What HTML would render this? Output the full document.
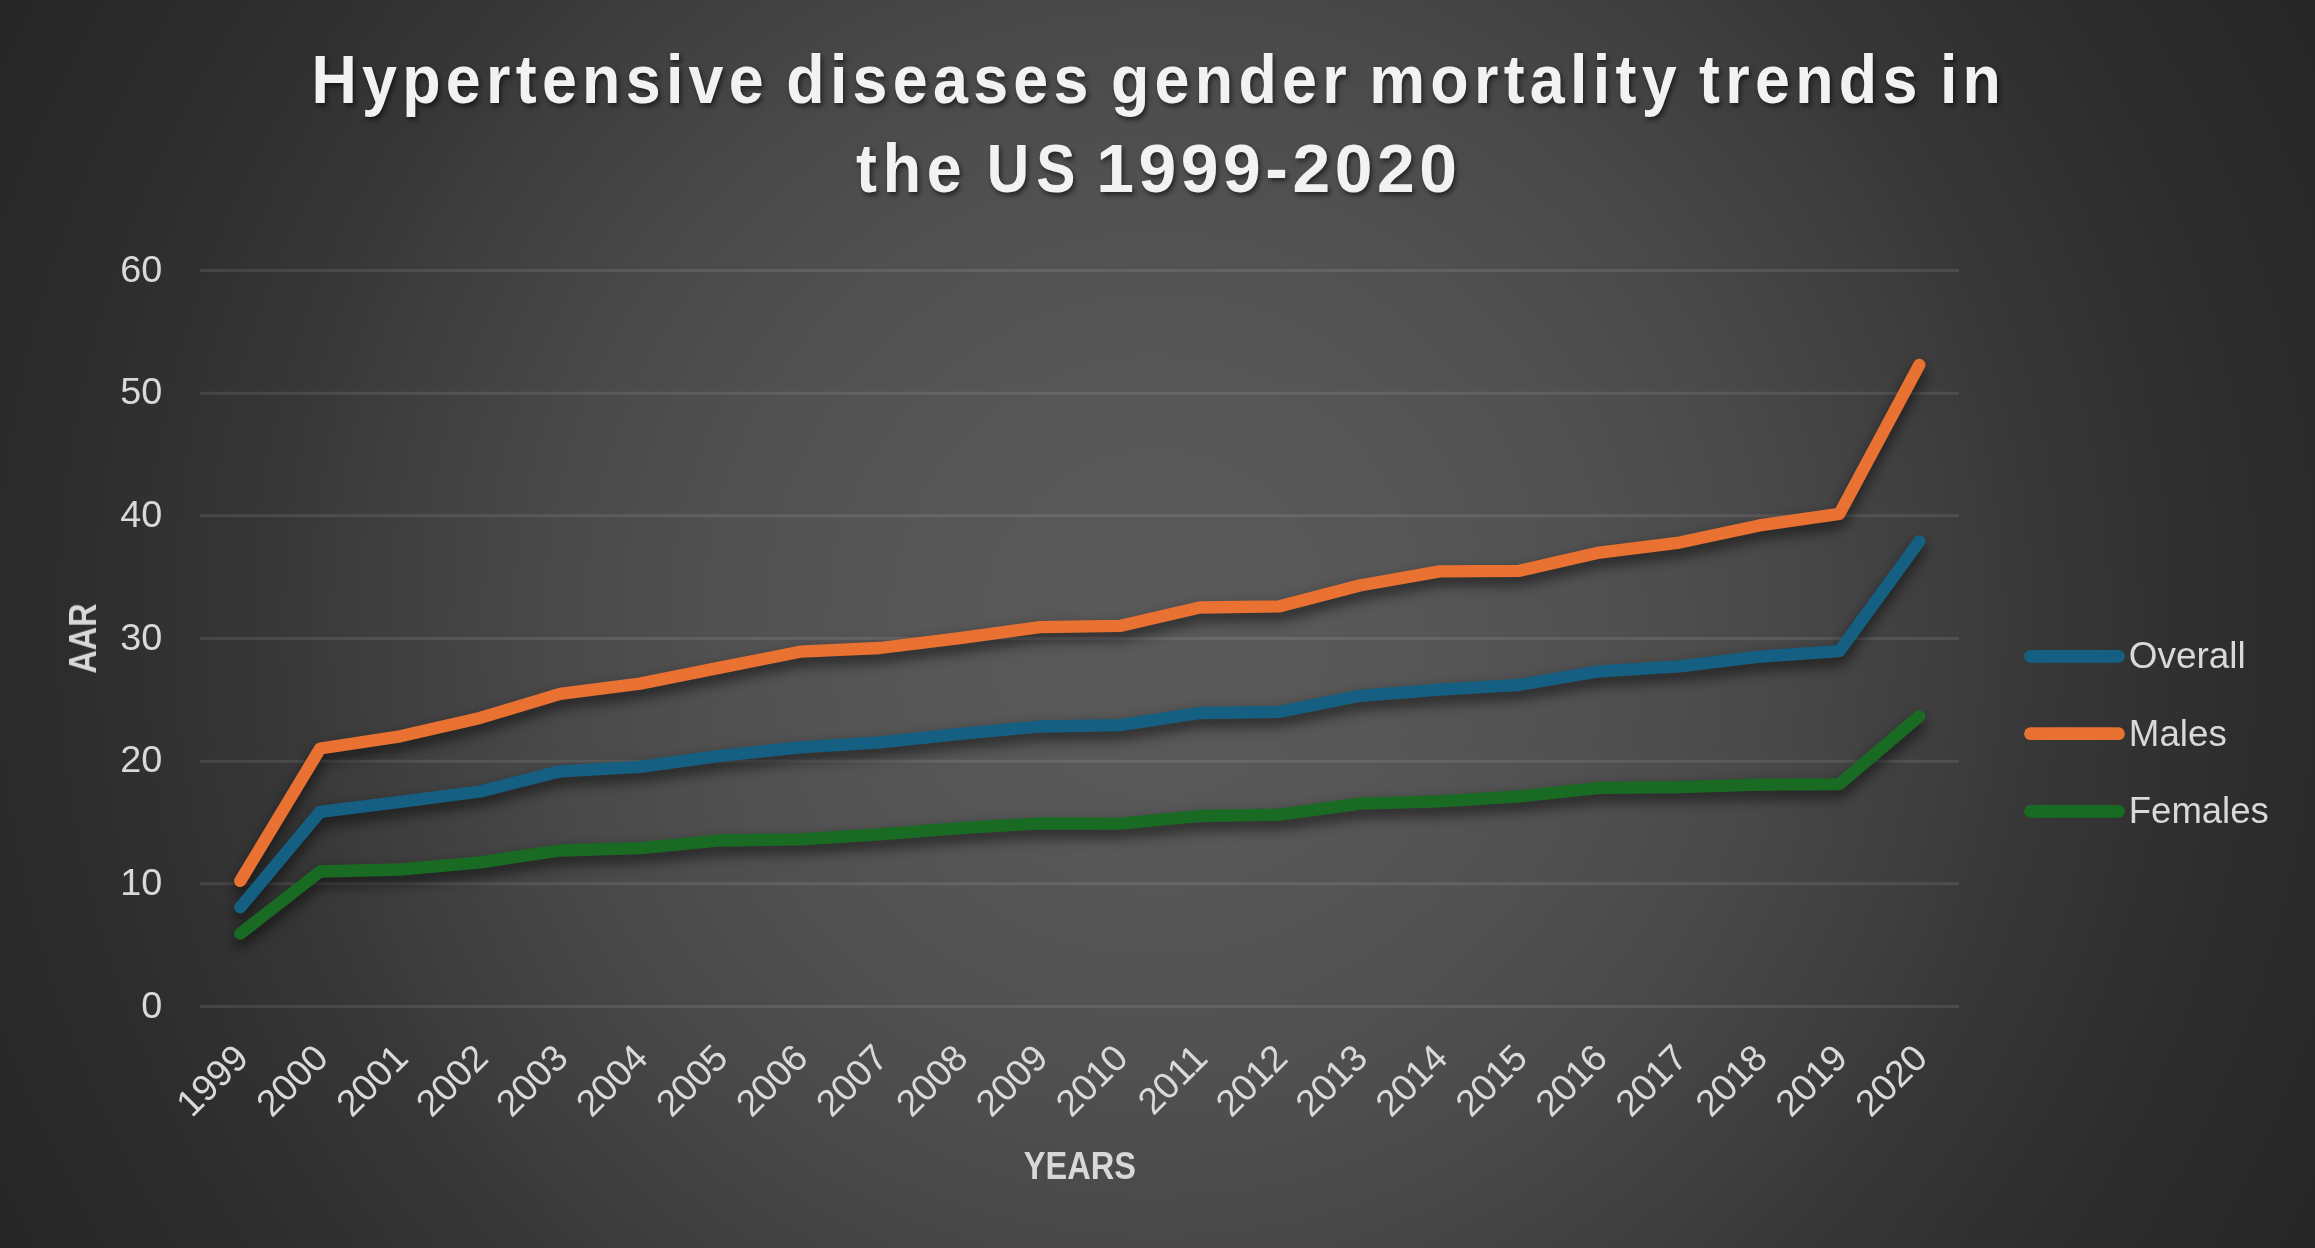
<!DOCTYPE html>
<html><head><meta charset="utf-8"><title>Hypertensive diseases gender mortality trends in the US 1999-2020</title>
<style>html,body{margin:0;padding:0;background:#262626;overflow:hidden}body{width:2315px;height:1248px}svg{display:block}text{font-family:"Liberation Sans",sans-serif}</style></head><body>
<svg width="2315" height="1248" viewBox="0 0 2315 1248">
<defs>
<radialGradient id="bg" gradientUnits="userSpaceOnUse" cx="1157.5" cy="624.0" r="1315.0"><stop offset="0.000" stop-color="#595959"/><stop offset="0.025" stop-color="#595959"/><stop offset="0.050" stop-color="#595959"/><stop offset="0.075" stop-color="#585858"/><stop offset="0.100" stop-color="#585858"/><stop offset="0.125" stop-color="#585858"/><stop offset="0.150" stop-color="#575757"/><stop offset="0.175" stop-color="#575757"/><stop offset="0.200" stop-color="#565656"/><stop offset="0.225" stop-color="#555555"/><stop offset="0.250" stop-color="#545454"/><stop offset="0.275" stop-color="#535353"/><stop offset="0.300" stop-color="#525252"/><stop offset="0.325" stop-color="#515151"/><stop offset="0.350" stop-color="#505050"/><stop offset="0.375" stop-color="#4e4e4e"/><stop offset="0.400" stop-color="#4d4d4d"/><stop offset="0.425" stop-color="#4b4b4b"/><stop offset="0.450" stop-color="#4a4a4a"/><stop offset="0.475" stop-color="#484848"/><stop offset="0.500" stop-color="#464646"/><stop offset="0.525" stop-color="#444444"/><stop offset="0.550" stop-color="#424242"/><stop offset="0.575" stop-color="#404040"/><stop offset="0.600" stop-color="#3e3e3e"/><stop offset="0.625" stop-color="#3c3c3c"/><stop offset="0.650" stop-color="#393939"/><stop offset="0.675" stop-color="#373737"/><stop offset="0.700" stop-color="#353535"/><stop offset="0.725" stop-color="#343434"/><stop offset="0.750" stop-color="#323232"/><stop offset="0.775" stop-color="#303030"/><stop offset="0.800" stop-color="#2f2f2f"/><stop offset="0.825" stop-color="#2d2d2d"/><stop offset="0.850" stop-color="#2c2c2c"/><stop offset="0.875" stop-color="#2b2b2b"/><stop offset="0.900" stop-color="#2a2a2a"/><stop offset="0.925" stop-color="#292929"/><stop offset="0.950" stop-color="#282828"/><stop offset="0.975" stop-color="#272727"/><stop offset="1.000" stop-color="#262626"/></radialGradient>
<filter id="sh" x="-5%" y="-20%" width="110%" height="140%" color-interpolation-filters="sRGB"><feGaussianBlur in="SourceAlpha" stdDeviation="7"/><feOffset dx="0" dy="7" result="b"/><feComponentTransfer><feFuncA type="linear" slope="0.6"/></feComponentTransfer><feMerge><feMergeNode/><feMergeNode in="SourceGraphic"/></feMerge></filter>
<filter id="tsh" x="-5%" y="-30%" width="110%" height="160%" color-interpolation-filters="sRGB"><feGaussianBlur in="SourceAlpha" stdDeviation="2.4"/><feOffset dx="1.8" dy="3.4"/><feComponentTransfer><feFuncA type="linear" slope="0.55"/></feComponentTransfer><feMerge><feMergeNode/><feMergeNode in="SourceGraphic"/></feMerge></filter>
</defs>
<rect width="2315" height="1248" fill="url(#bg)"/>
<g stroke="rgba(242,242,242,0.10)" stroke-width="3">
<line x1="200.0" y1="1006.50" x2="1959.0" y2="1006.50"/>
<line x1="200.0" y1="883.83" x2="1959.0" y2="883.83"/>
<line x1="200.0" y1="761.17" x2="1959.0" y2="761.17"/>
<line x1="200.0" y1="638.50" x2="1959.0" y2="638.50"/>
<line x1="200.0" y1="515.83" x2="1959.0" y2="515.83"/>
<line x1="200.0" y1="393.17" x2="1959.0" y2="393.17"/>
<line x1="200.0" y1="270.50" x2="1959.0" y2="270.50"/>
</g>
<g font-size="37.8" fill="#D9D9D9" text-anchor="end" opacity="0.999">
<text x="162.2" y="1017.5">0</text>
<text x="162.2" y="894.9">10</text>
<text x="162.2" y="772.2">20</text>
<text x="162.2" y="649.5">30</text>
<text x="162.2" y="526.9">40</text>
<text x="162.2" y="404.2">50</text>
<text x="162.2" y="281.6">60</text>
</g>
<g font-size="37.2" fill="#D9D9D9" text-anchor="end" opacity="0.999">
<text transform="translate(250.3,1060.0) rotate(-45)">1999</text>
<text transform="translate(330.2,1060.0) rotate(-45)">2000</text>
<text transform="translate(410.2,1060.0) rotate(-45)">2001</text>
<text transform="translate(490.1,1060.0) rotate(-45)">2002</text>
<text transform="translate(570.1,1060.0) rotate(-45)">2003</text>
<text transform="translate(650.0,1060.0) rotate(-45)">2004</text>
<text transform="translate(730.0,1060.0) rotate(-45)">2005</text>
<text transform="translate(810.0,1060.0) rotate(-45)">2006</text>
<text transform="translate(889.9,1060.0) rotate(-45)">2007</text>
<text transform="translate(969.9,1060.0) rotate(-45)">2008</text>
<text transform="translate(1049.8,1060.0) rotate(-45)">2009</text>
<text transform="translate(1129.8,1060.0) rotate(-45)">2010</text>
<text transform="translate(1209.7,1060.0) rotate(-45)">2011</text>
<text transform="translate(1289.7,1060.0) rotate(-45)">2012</text>
<text transform="translate(1369.6,1060.0) rotate(-45)">2013</text>
<text transform="translate(1449.6,1060.0) rotate(-45)">2014</text>
<text transform="translate(1529.5,1060.0) rotate(-45)">2015</text>
<text transform="translate(1609.5,1060.0) rotate(-45)">2016</text>
<text transform="translate(1689.5,1060.0) rotate(-45)">2017</text>
<text transform="translate(1769.4,1060.0) rotate(-45)">2018</text>
<text transform="translate(1849.4,1060.0) rotate(-45)">2019</text>
<text transform="translate(1929.3,1060.0) rotate(-45)">2020</text>
</g>
<g fill="none" stroke-width="12.3" stroke-linecap="round" stroke-linejoin="round" filter="url(#sh)">
<polyline stroke="#156082" points="240.3,907.4 320.2,811.8 400.2,801.9 480.1,791.5 560.1,771.3 640.0,766.9 720.0,755.9 800.0,747.3 879.9,742.4 959.9,733.8 1039.8,726.5 1119.8,725.2 1199.7,713.0 1279.7,711.8 1359.6,695.8 1439.6,689.7 1519.5,684.8 1599.5,671.3 1679.5,666.4 1759.4,656.6 1839.4,651.1 1919.3,541.3"/>
<polyline stroke="#E97132" points="240.3,880.9 320.2,748.5 400.2,736.3 480.1,717.9 560.1,693.9 640.0,683.6 720.0,667.6 800.0,651.7 879.9,648.0 959.9,638.2 1039.8,627.2 1119.8,625.9 1199.7,607.5 1279.7,606.3 1359.6,585.5 1439.6,571.4 1519.5,570.8 1599.5,552.6 1679.5,542.6 1759.4,525.4 1839.4,513.8 1919.3,364.8"/>
<polyline stroke="#196B24" points="240.3,933.7 320.2,871.5 400.2,869.5 480.1,862.3 560.1,850.5 640.0,848.1 720.0,840.5 800.0,839.3 879.9,834.4 959.9,828.2 1039.8,823.3 1119.8,823.7 1199.7,816.0 1279.7,814.7 1359.6,803.7 1439.6,801.3 1519.5,796.4 1599.5,787.8 1679.5,787.2 1759.4,784.7 1839.4,784.1 1919.3,716.3"/>
</g>
<g stroke-width="12.8" stroke-linecap="round">
<line x1="2030.5" y1="656.3" x2="2118.5" y2="656.3" stroke="#156082"/>
<line x1="2030.5" y1="733.7" x2="2118.5" y2="733.7" stroke="#E97132"/>
<line x1="2030.5" y1="811.3" x2="2118.5" y2="811.3" stroke="#196B24"/>
</g>
<g font-size="36.7" fill="#D9D9D9" opacity="0.999">
<text x="2128.8" y="667.7" textLength="117" lengthAdjust="spacingAndGlyphs">Overall</text>
<text x="2128.8" y="745.6" textLength="98" lengthAdjust="spacingAndGlyphs">Males</text>
<text x="2128.8" y="822.9" textLength="140" lengthAdjust="spacingAndGlyphs">Females</text>
</g>
<g font-size="38.5" font-weight="bold" fill="#D9D9D9" text-anchor="middle" opacity="0.999">
<text transform="translate(1079.8,1179.1) scale(0.835,1)" font-size="39">YEARS</text>
<text transform="translate(96,638.5) rotate(-90) scale(0.84,1)">AAR</text>
</g>
<g font-size="69.2" font-weight="bold" fill="#F2F2F2" filter="url(#tsh)">
<text transform="translate(311.4,102.7) scale(0.907,1)" letter-spacing="5.83" word-spacing="-6">Hypertensive diseases gender mortality trends in</text>
<text transform="translate(856.0,192.3) scale(0.907,1)" letter-spacing="6.39">the</text>
<text transform="translate(986.8,192.3) scale(0.849,1)" letter-spacing="8.24">US</text>
<text transform="translate(1096.2,192.3) scale(0.98,1)" letter-spacing="4.66">1999-2020</text>
</g>
</svg></body></html>
